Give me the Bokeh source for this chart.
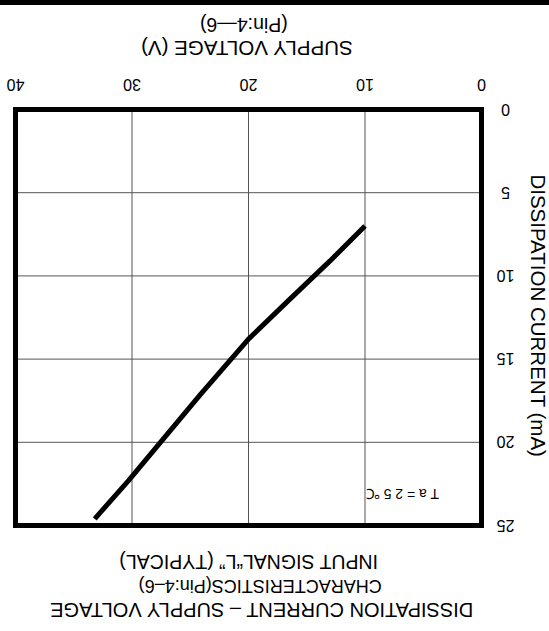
import math
from bokeh.plotting import figure
from bokeh.models import Range1d, Div
from bokeh.layouts import column
from bokeh.core.properties import value
from bokeh.embed import file_html
from bokeh.resources import INLINE

# ---- data (the chart is shown rotated 180 degrees) ----
voltage = [10, 13, 16.6, 20, 24.1, 30.3, 33.2]        # supply voltage (V)
current = [7.0, 9.1, 11.5, 13.8, 17.1, 22.3, 24.6]    # dissipation current (mA)
x_ticks = [0, 10, 20, 30, 40]
y_ticks = [0, 5, 10, 15, 20, 25]
x_title = "SUPPLY VOLTAGE  (V)"
x_title2 = "(Pin:4—6)"
y_title = "DISSIPATION CURRENT (mA)"
chart_title = ["DISSIPATION CURRENT – SUPPLY VOLTAGE",
               "CHARACTERISTICS(Pin:4–6)",
               "INPUT SIGNAL“L” (TYPICAL)"]
note = "T a = 2 5 ℃"

# ---- layout (pixels) ----
W, H, BAND = 549, 626, 5
FRAME_L, FRAME_R, FRAME_T, FRAME_B = 15, 481, 104, 520   # plot box inside the figure
FONT = "Liberation Sans"

x_lo, x_hi = min(x_ticks), max(x_ticks)
y_lo, y_hi = min(y_ticks), max(y_ticks)
kx = (FRAME_R - FRAME_L) / (x_hi - x_lo)   # px per volt (x grows to the left)
ky = (FRAME_B - FRAME_T) / (y_hi - y_lo)   # px per mA (y grows downward)
x_range = Range1d(x_lo + FRAME_R / kx, x_lo - (W - FRAME_R) / kx)
y_range = Range1d(y_lo + (H - FRAME_T) / ky, y_lo - FRAME_T / ky)

p = figure(width=W, height=H, x_range=x_range, y_range=y_range,
           x_axis_location=None, y_axis_location=None,
           output_backend="svg", toolbar_location=None,
           min_border=0, outline_line_color=None)
p.background_fill_color = "white"
p.border_fill_color = "white"
p.grid.visible = False

# grid lines
gx = [t for t in x_ticks if x_lo < t < x_hi]
gy = [t for t in y_ticks if y_lo < t < y_hi]
p.segment(x0=gx, x1=gx, y0=[y_lo] * len(gx), y1=[y_hi] * len(gx),
          line_color="#555555", line_width=1)
p.segment(x0=[x_lo] * len(gy), x1=[x_hi] * len(gy), y0=gy, y1=gy,
          line_color="#555555", line_width=1)

# plot box
p.quad(left=[x_hi], right=[x_lo], top=[y_lo], bottom=[y_hi],
       fill_color=None, line_color="black", line_width=5, line_join="miter")

# data curve
p.line(voltage, current, line_color="black", line_width=5)

def txt(x, y, t, size, angle=math.pi):
    p.text(x=x, y=y, text=t, angle=angle,
           text_align="center", text_baseline="middle",
           text_font=value(FONT), text_font_size=value(size), text_color="black")

# tick labels (upside down)
txt(x_ticks, [y_lo - 25 / ky] * len(x_ticks), [str(t) for t in x_ticks], "16px")
txt([x_lo - 24 / kx] * len(y_ticks), y_ticks, [str(t) for t in y_ticks], "16px")

# axis titles
txt([20.4], [y_lo - 61 / ky], [x_title], "20.5px")
txt([20.4], [y_lo - 85 / ky], [x_title2], "19.5px")
txt([x_lo - 57 / kx], [12.4], [y_title], "20.5px", angle=-math.pi / 2)

# note and chart title (upside down)
txt([6.8], [23.1], [note], "14px")
txt([18.9], [y_hi + 84 / ky], [chart_title[0]], "20px")
txt([19.0], [y_hi + 60 / ky], [chart_title[1]], "18px")
txt([20.0], [y_hi + 36 / ky], [chart_title[2]], "19.5px")

band = Div(text="", width=W, height=BAND, margin=0,
           styles={"background-color": "black"})
layout = column(band, p, spacing=0)

open("out.html", "w").write(file_html(layout, INLINE))
